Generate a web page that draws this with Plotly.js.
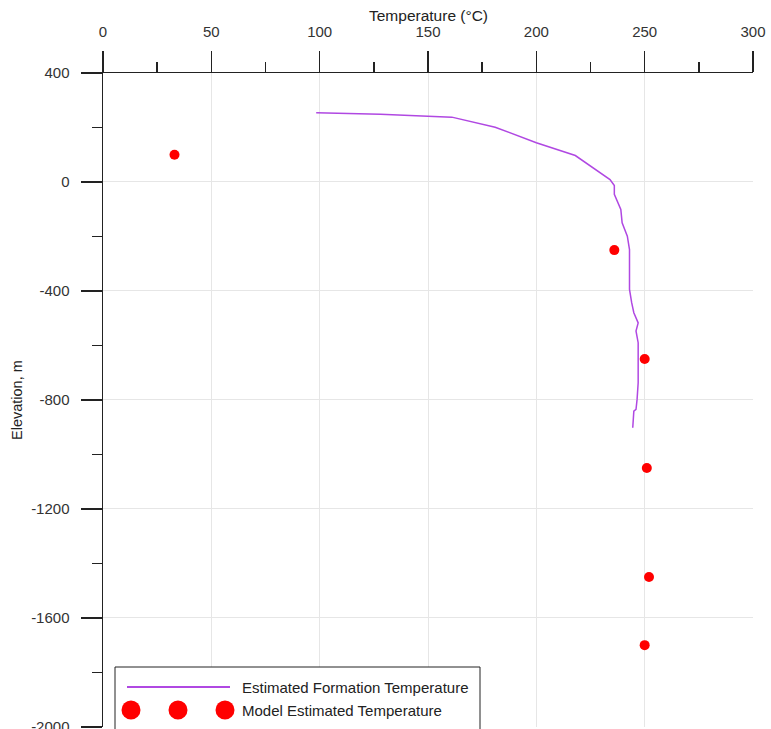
<!DOCTYPE html>
<html>
<head>
<meta charset="utf-8">
<script src="https://cdn.plot.ly/plotly-3.0.1.min.js"></script>
<style>html,body{margin:0;padding:0;background:#fff;}#chart{width:771px;height:729px;}</style>
</head>
<body>
<div id="chart"></div>
<script>
// Estimated Formation Temperature profile
const formationTemp = [98.4, 128, 161, 181, 200, 218, 234, 236, 236, 239, 239.6, 242, 243, 243, 244, 245, 247, 246, 247, 247, 246.5, 246, 245, 244.5];
const formationElev = [254, 249, 238, 201, 144, 97, 9, -13, -45, -101, -150, -199, -248, -394, -443, -480, -517, -547, -590, -737, -798, -835, -841, -902];
// Model Estimated Temperature
const modelTemp = [33, 236, 250, 251, 252, 250];
const modelElev = [100, -250, -650, -1050, -1450, -1700];
// Tick labels
const yTickVals = [400, 0, -400, -800, -1200, -1600, -2000];
const yTickText = ['400', '0', '-400', '-800', '-1200', '-1600', '-2000'];
const seriesNames = ['Estimated Formation Temperature', 'Model Estimated Temperature'];
const xTitle = 'Temperature (°C)';
const yTitle = 'Elevation, m';

const lineColor = 'rgb(176,72,226)';
const axisColor = '#222';
const font = "'Liberation Sans', Arial, sans-serif";

const traces = [
  {x: formationTemp, y: formationElev, type: 'scatter', mode: 'lines', name: seriesNames[0],
   line: {color: lineColor, width: 1.5}, showlegend: false},
  {x: modelTemp, y: modelElev, type: 'scatter', mode: 'markers', name: seriesNames[1],
   marker: {color: '#ff0000', size: 10}, showlegend: false}
];

// manual legend (paper coords), plot area: x 103..753, y 73..727
const W = 650, H = 654, L = 103, T = 73;
const px = v => (v - L) / W;
const py = v => (T + H - v) / H;

const shapes = [
  {type: 'rect', xref: 'paper', yref: 'paper', x0: px(115), x1: px(480), y0: py(740), y1: py(667),
   line: {color: '#222', width: 1}, fillcolor: '#fff', layer: 'above'},
  {type: 'line', xref: 'paper', yref: 'paper', x0: px(127), x1: px(230), y0: py(687), y1: py(687),
   line: {color: lineColor, width: 2}, layer: 'above'}
];
[131, 178, 225].forEach(cx => {
  shapes.push({type: 'circle', xref: 'paper', yref: 'paper', xsizemode: 'pixel', ysizemode: 'pixel',
    xanchor: px(cx), yanchor: py(710), x0: -9.5, x1: 9.5, y0: -9.5, y1: 9.5,
    fillcolor: '#ff0000', line: {width: 0}, layer: 'above'});
});

const annotations = [
  {xref: 'paper', yref: 'paper', x: px(240), y: py(687), xanchor: 'left', yanchor: 'middle',
   text: seriesNames[0], showarrow: false, font: {family: font, size: 15, color: '#222'}},
  {xref: 'paper', yref: 'paper', x: px(240), y: py(710), xanchor: 'left', yanchor: 'middle',
   text: seriesNames[1], showarrow: false, font: {family: font, size: 15, color: '#222'}},
  {xref: 'paper', yref: 'paper', x: 0.5, y: py(16), xanchor: 'center', yanchor: 'middle',
   text: xTitle, showarrow: false, font: {family: font, size: 15.5, color: '#222'}},
  {xref: 'paper', yref: 'paper', x: px(17), y: py(400), xanchor: 'center', yanchor: 'middle', textangle: -90,
   text: yTitle, showarrow: false, font: {family: font, size: 14.5, color: '#222'}}
];

const layout = {
  width: 771, height: 729,
  margin: {l: 103, r: 18, t: 73, b: 2, autoexpand: false},
  paper_bgcolor: '#fff', plot_bgcolor: '#fff',
  font: {family: font, size: 15, color: '#222'},
  showlegend: false,
  xaxis: {
    side: 'top', range: [0, 300], tickmode: 'linear', tick0: 0, dtick: 50,
    showline: true, linecolor: axisColor, linewidth: 1.5,
    ticks: 'outside', ticklen: 21, tickcolor: axisColor, tickwidth: 1.5,
    ticklabelstandoff: 8,
    showgrid: true, gridcolor: '#e6e6e6', gridwidth: 1, zeroline: false,
    minor: {dtick: 25, tick0: 0, ticks: 'outside', ticklen: 10, tickcolor: axisColor, tickwidth: 1.5, showgrid: false},
    tickfont: {size: 15, color: '#333'},
    automargin: false, fixedrange: true
  },
  yaxis: {
    range: [-2000.5, 400], tickmode: 'array', tickvals: yTickVals, ticktext: yTickText,
    showline: true, linecolor: axisColor, linewidth: 1.5,
    ticks: 'outside', ticklen: 21, tickcolor: axisColor, tickwidth: 1.5,
    ticklabelstandoff: 8, ticklabeloverflow: 'allow',
    showgrid: true, gridcolor: '#e6e6e6', gridwidth: 1, zeroline: false,
    minor: {tickmode: 'linear', dtick: 200, tick0: 0, ticks: 'outside', ticklen: 10, tickcolor: axisColor, tickwidth: 1.5, showgrid: false},
    tickfont: {size: 15, color: '#333'},
    automargin: false, fixedrange: true
  },
  shapes: shapes,
  annotations: annotations
};

Plotly.newPlot('chart', traces, layout, {displayModeBar: false, staticPlot: true});
</script>
</body>
</html>
